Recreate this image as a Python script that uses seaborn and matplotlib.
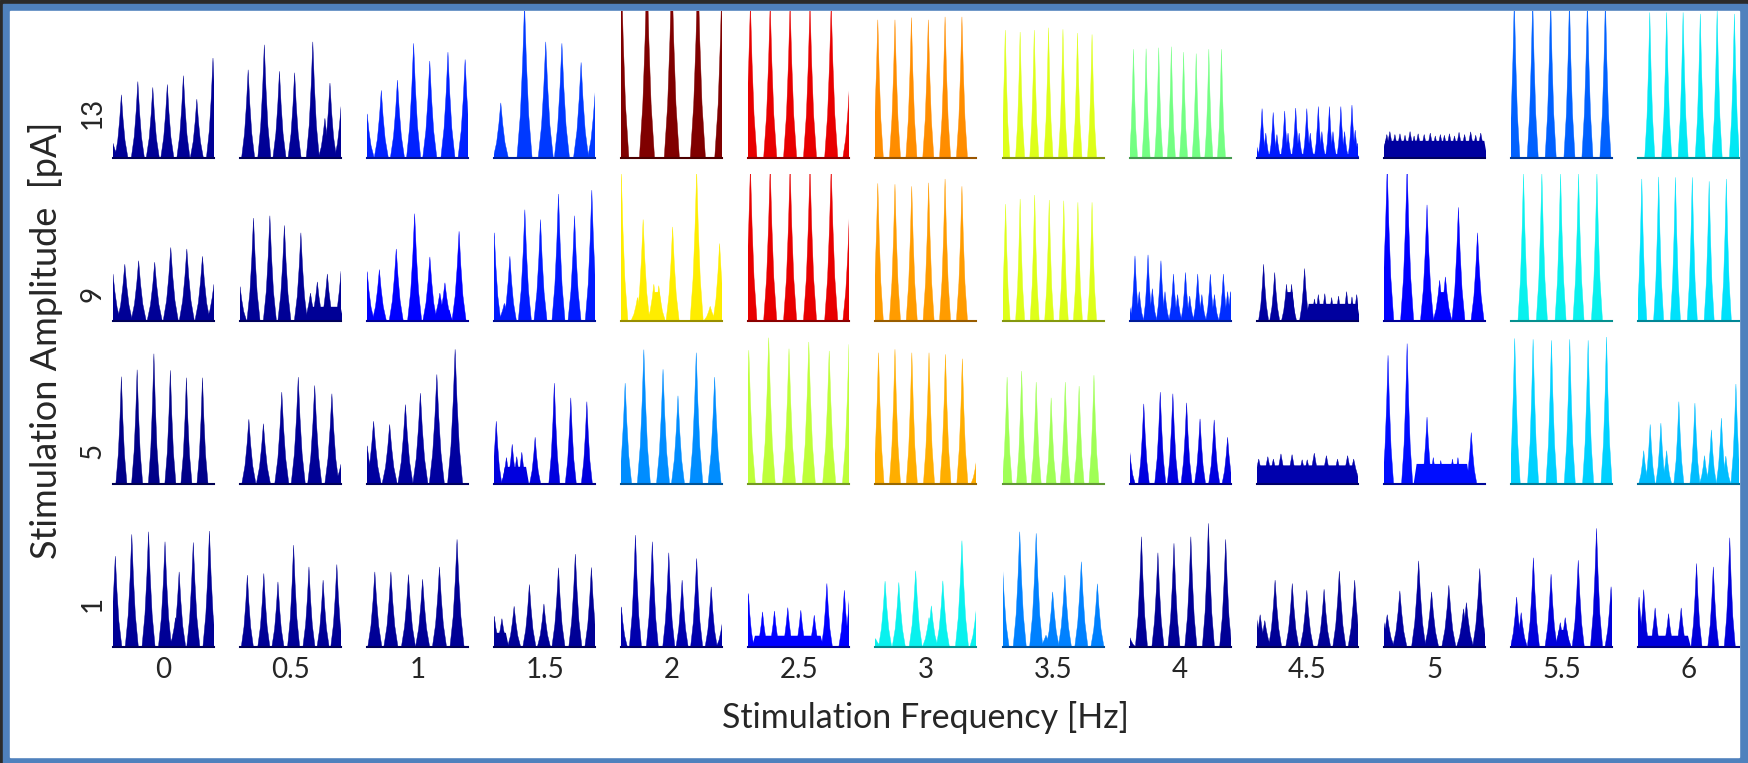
import numpy as np
import matplotlib
matplotlib.use("Agg")
import matplotlib.pyplot as plt
from matplotlib.patches import Rectangle
import seaborn as sns

# stimulation grid
freqs = ["0", "0.5", "1", "1.5", "2", "2.5", "3", "3.5", "4", "4.5", "5", "5.5", "6"]
amps = ["13", "9", "5", "1"]

# peaks per panel: (position across panel 0-1, height 0-1)
peaks_13 = [
    [(0, 0.10), (0.083, 0.43), (0.246, 0.52), (0.394, 0.48), (0.538, 0.50), (0.697, 0.56), (0.83, 0.40), (0.99, 0.68)],
    [(0.08, 0.60), (0.24, 0.77), (0.39, 0.59), (0.54, 0.58), (0.72, 0.79), (0.84, 0.27), (0.89, 0.51), (1.0, 0.35)],
    [(0, 0.30), (0.14, 0.46), (0.30, 0.53), (0.46, 0.78), (0.62, 0.66), (0.80, 0.72), (0.97, 0.67)],
    [(0.065, 0.375), (0.30, 1.05), (0.51, 0.79), (0.67, 0.78), (0.86, 0.65), (1.0, 0.45)],
    [(0, 1.3), (0.254, 1.3), (0.50, 1.3), (0.758, 1.3), (1.0, 1.3)],
    [(0.02, 1.05), (0.216, 1.05), (0.413, 1.05), (0.61, 1.05), (0.82, 1.05), (1.0, 0.48)],
    [(0.023, 0.94), (0.193, 0.94), (0.356, 0.955), (0.523, 0.94), (0.689, 0.96), (0.856, 0.96)],
    [(0.027, 0.87), (0.174, 0.857), (0.314, 0.87), (0.455, 0.886), (0.598, 0.875), (0.742, 0.85), (0.886, 0.84)],
    [(0.038, 0.74), (0.163, 0.743), (0.288, 0.75), (0.413, 0.757), (0.534, 0.72), (0.659, 0.71), (0.784, 0.74), (0.909, 0.74)],
    [(0, 0.08), (0.053, 0.336), (0.09, 0.17), (0.163, 0.31), (0.2, 0.16), (0.277, 0.32), (0.31, 0.17),
     (0.386, 0.34), (0.42, 0.17), (0.496, 0.336), (0.53, 0.17), (0.61, 0.35), (0.645, 0.18), (0.72, 0.35),
     (0.755, 0.18), (0.833, 0.35), (0.87, 0.18), (0.943, 0.36), (0.975, 0.19), (1.0, 0.1)],
    [(0.03, 0.16), (0.06, 0.18), (0.11, 0.16), (0.16, 0.165), (0.21, 0.155), (0.26, 0.18), (0.30, 0.15),
     (0.34, 0.165), (0.40, 0.16), (0.46, 0.17), (0.51, 0.15), (0.56, 0.16), (0.60, 0.155), (0.65, 0.165),
     (0.70, 0.15), (0.745, 0.175), (0.80, 0.16), (0.86, 0.178), (0.91, 0.155), (0.96, 0.17)],
    [(0.034, 1.08), (0.216, 1.08), (0.394, 1.08), (0.58, 1.08), (0.758, 1.08), (0.936, 1.08)],
    [(0.117, 0.99), (0.284, 0.99), (0.447, 0.99), (0.617, 0.98), (0.784, 1.0), (0.955, 0.98)],
]
peaks_9 = [
    [(0, 0.32), (0.117, 0.386), (0.254, 0.41), (0.413, 0.40), (0.572, 0.50), (0.731, 0.49), (0.886, 0.44), (1.0, 0.25)],
    [(0, 0.234), (0.133, 0.70), (0.295, 0.716), (0.439, 0.65), (0.602, 0.60), (0.697, 0.19), (0.765, 0.266), (0.864, 0.32), (1.0, 0.34)],
    [(0, 0.336), (0.121, 0.35), (0.288, 0.49), (0.47, 0.73), (0.621, 0.436), (0.72, 0.19), (0.77, 0.26), (0.91, 0.61)],
    [(0, 0.60), (0.1, 0.12), (0.155, 0.44), (0.303, 0.757), (0.458, 0.69), (0.636, 0.864), (0.795, 0.716), (0.966, 0.89)],
    [(0, 1.0), (0.16, 0.16), (0.216, 0.69), (0.322, 0.25), (0.371, 0.24), (0.508, 0.64), (0.746, 1.02), (0.88, 0.1), (0.973, 0.527)],
    [(0.02, 1.05), (0.216, 1.05), (0.413, 1.05), (0.61, 1.05), (0.82, 1.05), (1.0, 0.727)],
    [(0.023, 0.936), (0.193, 0.93), (0.359, 0.916), (0.526, 0.94), (0.689, 0.966), (0.856, 0.916)],
    [(0.03, 0.795), (0.174, 0.83), (0.318, 0.857), (0.462, 0.823), (0.606, 0.818), (0.746, 0.807), (0.886, 0.807)],
    [(0, 0.1), (0.053, 0.443), (0.095, 0.2), (0.182, 0.45), (0.225, 0.22), (0.31, 0.41), (0.35, 0.2), (0.434, 0.32),
     (0.475, 0.18), (0.553, 0.33), (0.595, 0.17), (0.674, 0.32), (0.715, 0.18), (0.799, 0.318), (0.84, 0.18),
     (0.928, 0.32), (0.97, 0.2), (1.0, 0.2)],
    [(0.068, 0.386), (0.178, 0.33), (0.295, 0.25), (0.345, 0.25), (0.474, 0.357), (0.572, 0.15), (0.61, 0.18),
     (0.674, 0.186), (0.742, 0.16), (0.81, 0.17), (0.89, 0.2), (0.943, 0.164), (0.99, 0.18)],
    [(0.034, 1.05), (0.231, 1.05), (0.428, 0.79), (0.553, 0.277), (0.61, 0.30), (0.739, 0.773), (0.928, 0.60)],
    [(0.125, 1.0), (0.307, 1.0), (0.492, 1.0), (0.67, 1.0), (0.852, 1.0)],
    [(0.038, 0.966), (0.205, 0.98), (0.371, 0.977), (0.538, 0.977), (0.705, 0.95), (0.875, 0.966)],
]
peaks_5 = [
    [(0.083, 0.73), (0.239, 0.777), (0.405, 0.886), (0.568, 0.773), (0.727, 0.723), (0.886, 0.723)],
    [(0.087, 0.44), (0.231, 0.41), (0.413, 0.625), (0.576, 0.727), (0.739, 0.67), (0.909, 0.614), (1.0, 0.136)],
    [(0, 0.26), (0.064, 0.427), (0.223, 0.405), (0.379, 0.54), (0.527, 0.618), (0.69, 0.745), (0.871, 0.916)],
    [(0.02, 0.427), (0.121, 0.18), (0.178, 0.27), (0.223, 0.186), (0.273, 0.216), (0.405, 0.318), (0.595, 0.686), (0.758, 0.586), (0.917, 0.56)],
    [(0.038, 0.686), (0.223, 0.914), (0.413, 0.78), (0.561, 0.60), (0.742, 0.893), (0.924, 0.727)],
    [(0.004, 0.91), (0.201, 0.995), (0.402, 0.92), (0.598, 0.966), (0.80, 0.905), (0.996, 0.95)],
    [(0.03, 0.893), (0.193, 0.916), (0.36, 0.893), (0.53, 0.893), (0.693, 0.882), (0.86, 0.852), (1.0, 0.16)],
    [(0.045, 0.727), (0.189, 0.768), (0.333, 0.693), (0.481, 0.586), (0.621, 0.693), (0.758, 0.666), (0.905, 0.74)],
    [(0, 0.227), (0.14, 0.545), (0.303, 0.625), (0.428, 0.614), (0.564, 0.552), (0.697, 0.443), (0.837, 0.436), (0.97, 0.318)],
    [(0.02, 0.17), (0.11, 0.186), (0.165, 0.17), (0.24, 0.205), (0.35, 0.2), (0.45, 0.165), (0.50, 0.165),
     (0.57, 0.21), (0.69, 0.193), (0.80, 0.17), (0.90, 0.193), (0.96, 0.17)],
    [(0.042, 0.875), (0.231, 0.955), (0.428, 0.455), (0.49, 0.18), (0.564, 0.16), (0.68, 0.17), (0.734, 0.18), (0.866, 0.35)],
    [(0.038, 0.99), (0.22, 0.984), (0.402, 0.977), (0.583, 0.984), (0.765, 0.977), (0.947, 1.0)],
    [(0.057, 0.227), (0.121, 0.405), (0.227, 0.414), (0.284, 0.227), (0.405, 0.56), (0.564, 0.55), (0.659, 0.193),
     (0.727, 0.368), (0.826, 0.448), (0.87, 0.19), (0.97, 0.68)],
]
peaks_1 = [
    [(0.023, 0.618), (0.186, 0.766), (0.352, 0.784), (0.515, 0.716), (0.62, 0.2), (0.655, 0.511), (0.795, 0.711), (0.955, 0.789)],
    [(0.072, 0.489), (0.235, 0.50), (0.375, 0.443), (0.53, 0.693), (0.682, 0.545), (0.822, 0.455), (0.958, 0.561)],
    [(0.076, 0.511), (0.235, 0.511), (0.409, 0.493), (0.549, 0.461), (0.716, 0.545), (0.89, 0.732)],
    [(0, 0.209), (0.076, 0.193), (0.197, 0.277), (0.348, 0.425), (0.492, 0.293), (0.636, 0.539), (0.803, 0.632), (0.962, 0.541)],
    [(0, 0.273), (0.14, 0.761), (0.307, 0.716), (0.47, 0.641), (0.602, 0.455), (0.746, 0.602), (0.89, 0.409), (1.0, 0.164)],
    [(0, 0.364), (0.14, 0.239), (0.258, 0.245), (0.39, 0.268), (0.519, 0.25), (0.652, 0.216), (0.777, 0.432), (0.95, 0.386), (1.0, 0.34)],
    [(0, 0.057), (0.095, 0.448), (0.231, 0.439), (0.398, 0.518), (0.53, 0.2), (0.553, 0.28), (0.667, 0.45), (0.856, 0.723), (1.0, 0.266)],
    [(0, 0.545), (0.17, 0.784), (0.333, 0.773), (0.43, 0.08), (0.496, 0.375), (0.617, 0.489), (0.78, 0.58), (0.939, 0.43)],
    [(0, 0.068), (0.117, 0.75), (0.28, 0.641), (0.439, 0.705), (0.606, 0.75), (0.78, 0.841), (0.951, 0.732)],
    [(0, 0.193), (0.034, 0.22), (0.08, 0.18), (0.182, 0.455), (0.352, 0.432), (0.496, 0.386), (0.667, 0.393), (0.818, 0.516), (0.97, 0.455)],
    [(0, 0.17), (0.034, 0.22), (0.159, 0.382), (0.345, 0.586), (0.473, 0.375), (0.644, 0.42), (0.79, 0.26), (0.818, 0.302), (0.95, 0.534)],
    [(0.057, 0.34), (0.102, 0.234), (0.223, 0.607), (0.398, 0.495), (0.489, 0.166), (0.538, 0.2), (0.667, 0.59), (0.848, 0.807), (0.992, 0.41)],
    [(0.011, 0.34), (0.057, 0.39), (0.17, 0.266), (0.303, 0.227), (0.428, 0.266), (0.58, 0.568), (0.746, 0.545), (0.909, 0.743)],
]

# raised floor between spikes: (amplitude, frequency, from, to, level)
floors = [
    ("13", "4.5", 0.0, 1.0, 0.03), ("13", "5", 0.0, 1.0, 0.12),
    ("9", "0.5", 0.67, 1.0, 0.1), ("9", "1", 0.69, 0.82, 0.08), ("9", "2", 0.31, 0.385, 0.2),
    ("9", "4.5", 0.28, 0.36, 0.2), ("9", "4.5", 0.5, 1.0, 0.12), ("9", "5", 0.54, 0.62, 0.2),
    ("5", "1.5", 0.09, 0.32, 0.12), ("5", "4.5", 0.0, 0.97, 0.13), ("5", "5", 0.31, 0.83, 0.14),
    ("1", "1.5", 0.0, 0.12, 0.1), ("1", "2.5", 0.05, 0.72, 0.08), ("1", "5.5", 0.46, 0.56, 0.12),
    ("1", "6", 0.0, 0.5, 0.08),
]

# colour value of each panel on the jet scale
jet_13 = [0.02, 0.02, 0.16, 0.18, 1.0, 0.91, 0.76, 0.62, 0.49, 0.15, 0.03, 0.22, 0.355]
jet_9 = [0.02, 0.02, 0.11, 0.15, 0.66, 0.91, 0.743, 0.62, 0.17, 0.03, 0.11, 0.36, 0.344]
jet_5 = [0.01, 0.02, 0.03, 0.085, 0.265, 0.58, 0.724, 0.545, 0.085, 0.042, 0.14, 0.33, 0.31]
jet_1 = [0.02, 0.02, 0.02, 0.02, 0.04, 0.11, 0.36, 0.25, 0.02, 0.02, 0.03, 0.08, 0.08]

# half width of the spikes in each panel
width_13 = [0.065, 0.065, 0.07, 0.075, 0.075, 0.065, 0.055, 0.045, 0.04, 0.04, 0.07, 0.055, 0.05]
width_9 = [0.075, 0.065, 0.07, 0.065, 0.065, 0.065, 0.055, 0.045, 0.045, 0.05, 0.065, 0.055, 0.05]
width_5 = [0.055, 0.07, 0.075, 0.055, 0.065, 0.065, 0.055, 0.05, 0.055, 0.08, 0.055, 0.055, 0.05]
width_1 = [0.065, 0.06, 0.07, 0.065, 0.06, 0.055, 0.065, 0.065, 0.06, 0.065, 0.07, 0.06, 0.055]

sns.set_theme(style="white")
plt.rcParams["font.family"] = ["Lato", "DejaVu Sans"]
cmap = matplotlib.colormaps["jet"]

W, H = 1749, 763
fig = plt.figure(figsize=(W / 100, H / 100), dpi=100)

# window frame
fig.patches.append(Rectangle((0, 0), 1, 1, transform=fig.transFigure, color="#2b2b2b", zorder=-3))
fig.patches.append(Rectangle((3 / W, 0), 1744 / W, 1 - 4 / H, transform=fig.transFigure,
                             color="#4f81bd", zorder=-2))
fig.patches.append(Rectangle((10 / W, 6 / H), 1729 / W, 1 - 17 / H, transform=fig.transFigure,
                             color="white", zorder=-1))

spike_dx = np.array([-1, -0.55, -0.25, 0, 0.25, 0.55, 1])
spike_dy = np.array([0, 0.28, 0.62, 1, 0.62, 0.28, 0])

all_peaks = [peaks_13, peaks_9, peaks_5, peaks_1]
all_jet = [jet_13, jet_9, jet_5, jet_1]
all_width = [width_13, width_9, width_5, width_1]
label_y = [0.306, 0.184, 0.224, 0.29]

for r, amp in enumerate(amps):
    for c, freq in enumerate(freqs):
        ax = fig.add_axes([(113 + 127.08 * c) / W, 1 - (158 + 163 * r) / H, 101 / W, 147 / H])
        ax.set_facecolor("none")
        color = cmap(all_jet[r][c])
        w = all_width[r][c]
        for x, h in all_peaks[r][c]:
            ax.fill(x + w * spike_dx, h * spike_dy, color=color, lw=0.3)
        for fa, ff, x0, x1, lev in floors:
            if fa == amp and ff == freq:
                ax.fill_between([x0 - 0.02, x0 + 0.01, x1 - 0.01, x1 + 0.02], 0, [0, lev, lev, 0],
                                color=color, lw=0)
        ax.set_xlim(0, 1)
        ax.set_ylim(0, 1)
        ax.set_yticks([])
        sns.despine(ax=ax, left=True)
        ax.spines["bottom"].set_color(tuple(np.array(color[:3]) * 0.6))
        ax.spines["bottom"].set_linewidth(1.5)
        if r == len(amps) - 1:
            ax.set_xticks([0.5], [freq])
            ax.tick_params(axis="x", length=0, pad=7, labelsize=20)
        else:
            ax.set_xticks([])
        if c == 0:
            ax.text(-0.2, label_y[r], amp, rotation=90, ha="center", va="center",
                    fontsize=20, transform=ax.transAxes)

fig.text(926 / W, 1 - 728 / H, "Stimulation Frequency [Hz]", ha="center", va="baseline", fontsize=24.5)
fig.text(46 / W, 1 - 340 / H, "Stimulation Amplitude  [pA]", ha="center", va="center",
         rotation=90, fontsize=26)

fig.savefig("out.png", dpi=100)
